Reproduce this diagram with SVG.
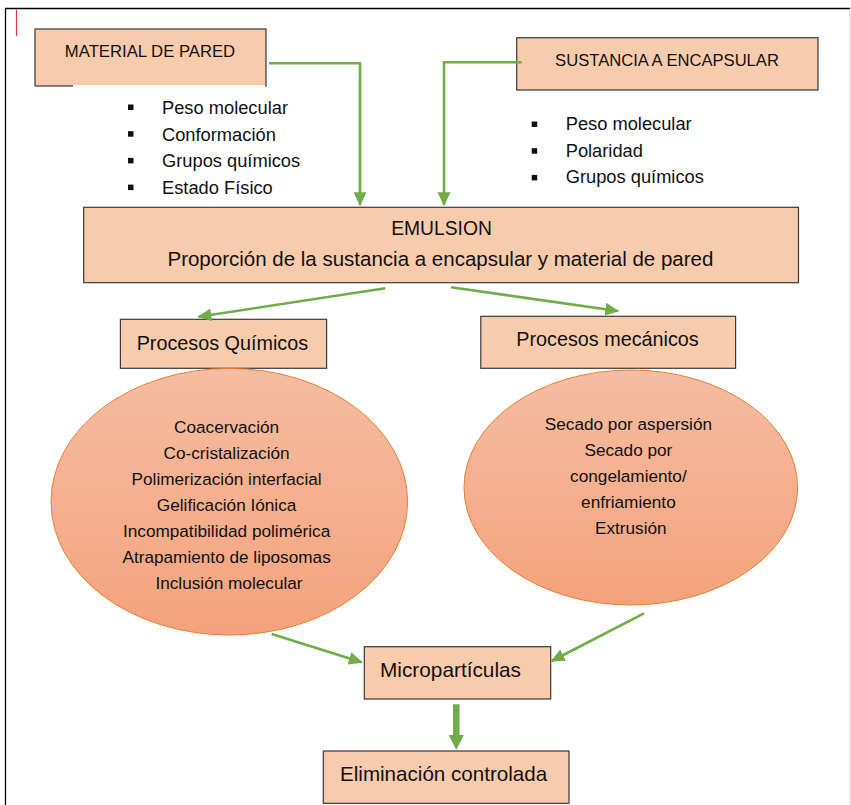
<svg xmlns="http://www.w3.org/2000/svg" width="851" height="805" viewBox="0 0 851 805">
  <defs>
    <linearGradient id="ellGrad" x1="0" y1="0" x2="0" y2="1">
      <stop offset="0" stop-color="#F5BDA2"/>
      <stop offset="1" stop-color="#F4A27C"/>
    </linearGradient>
    <marker id="arr" markerUnits="userSpaceOnUse" markerWidth="14" markerHeight="14" viewBox="0 0 12 12" refX="11" refY="6" orient="auto">
      <path d="M0,0.5 L12,6 L0,11.5 Z" fill="#70AD47"/>
    </marker>
  </defs>
  <style>
    .box { fill: #F8CBAD; stroke: #3A3A3A; stroke-width: 1.2; }
    .ell { fill: url(#ellGrad); stroke: #ED7D31; stroke-width: 1; }
    .t { font-family: "Liberation Sans", Arial, sans-serif; fill: #111; }
    .c { text-anchor: middle; }
    .conn { fill: none; stroke: #70AD47; stroke-width: 2.6; }
    .bul { fill: #111; }
  </style>
  <rect width="851" height="805" fill="#FFFFFF"/>
  <!-- page frame -->
  <g id="frame">
    <line x1="5" y1="8.5" x2="850" y2="8.5" stroke="#000" stroke-width="1.3"/>
    <line x1="5.5" y1="8" x2="5.5" y2="805" stroke="#000" stroke-width="1.3"/>
    <rect x="849" y="9" width="2" height="796" fill="#E6E6E6"/>
    <line x1="16.5" y1="10" x2="16.5" y2="36" stroke="#D9363E" stroke-width="1.2"/>
  </g>

  <g id="material">
    <rect class="box" x="35" y="29" width="231" height="57"/>
    <rect x="73" y="85" width="192" height="3" fill="#FFFFFF"/>
    <text class="t c" x="150" y="57" font-size="16.7">MATERIAL DE PARED</text>
  </g>
  <g id="material-list">
    <rect class="bul" x="128" y="104.5" width="5.5" height="5.5"/>
    <rect class="bul" x="128" y="131.2" width="5.5" height="5.5"/>
    <rect class="bul" x="128" y="157.9" width="5.5" height="5.5"/>
    <rect class="bul" x="128" y="184.6" width="5.5" height="5.5"/>
    <text class="t" x="162" y="114" font-size="18.3">Peso molecular</text>
    <text class="t" x="162" y="140.7" font-size="18.3">Conformación</text>
    <text class="t" x="162" y="167.4" font-size="18.3">Grupos químicos</text>
    <text class="t" x="162" y="194.1" font-size="18.3">Estado Físico</text>
  </g>

  <g id="sustancia">
    <rect class="box" x="516.7" y="37.7" width="301.3" height="52.3"/>
    <text class="t c" x="667" y="66" font-size="16.6">SUSTANCIA A ENCAPSULAR</text>
  </g>
  <g id="sustancia-list">
    <rect class="bul" x="531.7" y="121.5" width="5.5" height="5.5"/>
    <rect class="bul" x="531.7" y="148.2" width="5.5" height="5.5"/>
    <rect class="bul" x="531.7" y="174.9" width="5.5" height="5.5"/>
    <text class="t" x="565.7" y="130" font-size="18.3">Peso molecular</text>
    <text class="t" x="565.7" y="156.7" font-size="18.3">Polaridad</text>
    <text class="t" x="565.7" y="183.4" font-size="18.3">Grupos químicos</text>
  </g>

  <g id="emulsion">
    <rect class="box" x="83.7" y="207.3" width="714.8" height="75.4"/>
    <text class="t c" x="441.5" y="235" font-size="19.3">EMULSION</text>
    <text class="t c" x="440.4" y="266" font-size="20.5">Proporción de la sustancia a encapsular y material de pared</text>
  </g>

  <g id="quimicos">
    <rect class="box" x="120.4" y="319.3" width="206.2" height="49"/>
    <text class="t c" x="222.4" y="350" font-size="19.8">Procesos Químicos</text>
  </g>
  <g id="mecanicos">
    <rect class="box" x="480.8" y="316.3" width="254.8" height="52"/>
    <text class="t c" x="607.5" y="345.7" font-size="19.8">Procesos mecánicos</text>
  </g>

  <g id="quimicos-list">
    <ellipse class="ell" cx="229.3" cy="501.7" rx="178.3" ry="133.3"/>
    <text class="t c" font-size="17.2">
      <tspan x="229" y="432.7">Coacervación</tspan>
      <tspan x="229" y="458.7">Co-cristalización</tspan>
      <tspan x="229" y="484.7">Polimerización interfacial</tspan>
      <tspan x="229" y="510.7">Gelificación Iónica</tspan>
      <tspan x="229" y="536.7">Incompatibilidad polimérica</tspan>
      <tspan x="229" y="562.7">Atrapamiento de liposomas</tspan>
      <tspan x="229" y="588.7">Inclusión molecular</tspan>
    </text>
  </g>
  <g id="mecanicos-list">
    <ellipse class="ell" cx="630.8" cy="487.5" rx="166.8" ry="117.5"/>
    <text class="t c" font-size="17.2">
      <tspan x="630.8" y="430">Secado por aspersión</tspan>
      <tspan x="630.8" y="456.3">Secado por</tspan>
      <tspan x="630.8" y="482">congelamiento/</tspan>
      <tspan x="630.8" y="508">enfriamiento</tspan>
      <tspan x="630.8" y="534">Extrusión</tspan>
    </text>
  </g>

  <g id="microparticulas">
    <rect class="box" x="364.3" y="646.7" width="186.4" height="52.3"/>
    <text class="t" x="380" y="677.3" font-size="20.8">Micropartículas</text>
  </g>
  <g id="eliminacion">
    <rect class="box" x="323.3" y="751" width="245.7" height="52.3"/>
    <text class="t" x="340" y="780.7" font-size="20.6">Eliminación controlada</text>
  </g>

  <g id="connectors">
    <path class="conn" d="M269,63.3 H360 V205" marker-end="url(#arr)"/>
    <path class="conn" d="M521.7,62.3 H444 V205" marker-end="url(#arr)"/>
    <path class="conn" d="M385.3,288.3 L198.5,316.7" marker-end="url(#arr)"/>
    <path class="conn" d="M451,287.3 L618,311" marker-end="url(#arr)"/>
    <path class="conn" d="M271.7,634 L361.7,662.3" marker-end="url(#arr)"/>
    <path class="conn" d="M644,613.3 L551.7,661" marker-end="url(#arr)"/>
    <polygon points="453,704.3 459.5,704.3 459.5,735 463.8,735 456.2,750 448.7,735 453,735" fill="#70AD47"/>
  </g>
</svg>
